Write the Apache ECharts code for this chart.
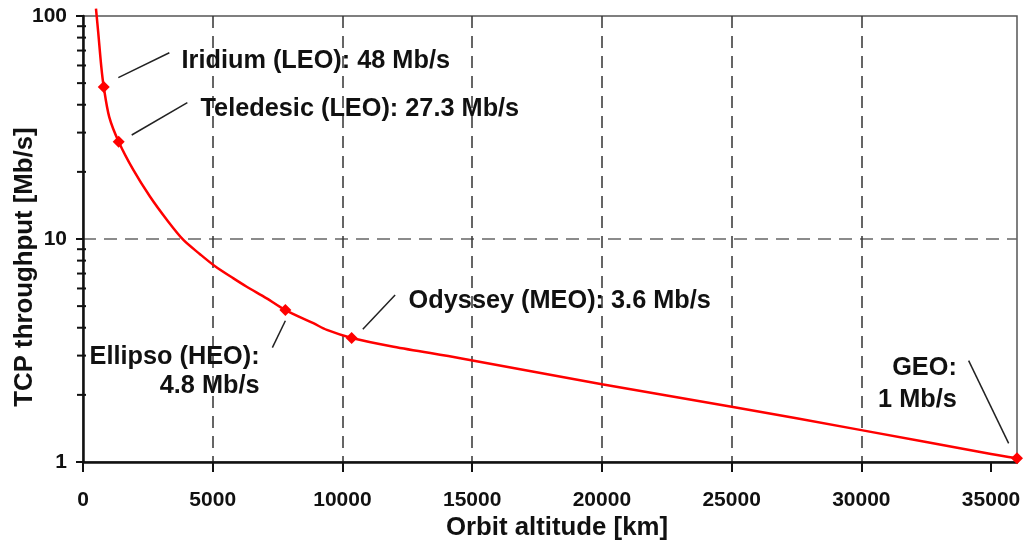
<!DOCTYPE html>
<html>
<head>
<meta charset="utf-8">
<script src="https://cdn.jsdelivr.net/npm/echarts@6/dist/echarts.min.js"></script>
<style>
html,body{margin:0;padding:0;background:#fff;}
#chart{width:1024px;height:544px;}
</style>
</head>
<body>
<div id="chart"></div>
<script>
// Curve data (orbit altitude km, TCP throughput Mb/s)
const curveAltitude   = [500, 590, 705, 800, 1010, 1375, 1940, 2580, 3230, 3870, 4510, 5090, 5800, 6310, 7080, 7800, 8880, 9400, 10354, 11970, 14540, 20000, 25000, 30000, 35000, 36000];
const curveThroughput = [108, 83.6, 59.3, 48, 35.3, 27.3, 20.4, 15.5, 12.2, 9.9, 8.55, 7.55, 6.66, 6.11, 5.42, 4.8, 4.19, 3.91, 3.6, 3.29, 2.92, 2.23, 1.77, 1.39, 1.087, 1.04];

// Marked systems
const systemNames      = ['Iridium (LEO)', 'Teledesic (LEO)', 'Ellipso (HEO)', 'Odyssey (MEO)', 'GEO'];
const systemAltitude   = [800, 1375, 7800, 10354, 36000];
const systemThroughput = [48, 27.3, 4.8, 3.6, 1.04];

// Axis ticks
const xTickValues = [0, 5000, 10000, 15000, 20000, 25000, 30000, 35000];
const yMinorTicks = [2,3,4,5,6,7,8,9,20,30,40,50,60,70,80,90];

// Annotation layout (data-space anchors for labels and leader lines)
const annotations = [
  {text: 'Iridium (LEO): 48 Mb/s',     at: [3779, 62.8],  side: 'right', line: [[1361, 52.9], [3328, 68.4]]},
  {text: 'Teledesic (LEO): 27.3 Mb/s', at: [4511, 38.3],  side: 'right', line: [[1878, 29.27], [4022, 40.85]]},
  {text: 'Odyssey (MEO): 3.6 Mb/s',    at: [12531, 5.27], side: 'right', line: [[10785, 3.94], [12030, 5.61]]},
  {text: 'Ellipso (HEO):\n4.8 Mb/s',   at: [6825, 2.546], side: 'left',  lh: 29, line: [[7800, 4.30], [7299, 3.256]]},
  {text: 'GEO:\n1 Mb/s',               at: [33700, 2.24], side: 'left',  lh: 32, line: [[34136, 2.847], [35678, 1.213]]}
];

const FONT = '"Liberation Sans", Arial, sans-serif';
const TXT = '#111';

const chart = echarts.init(document.getElementById('chart'));

const curveData = curveAltitude.map((x, i) => [x, curveThroughput[i]]);
const systemData = systemAltitude.map((x, i) => ({name: systemNames[i], value: [x, systemThroughput[i]]}));

const option = {
  animation: false,
  backgroundColor: '#fff',
  grid: {left: 83, right: 7, top: 16, bottom: 82, outerBoundsMode: 'none', containLabel: false,
         show: true, borderColor: '#555', borderWidth: 1.5, backgroundColor: 'transparent'},
  xAxis: {
    type: 'value', min: 0, max: 36000, interval: 5000,
    name: 'Orbit altitude [km]', nameLocation: 'middle', nameGap: 53, nameMoveOverlap: false,
    nameTextStyle: {fontFamily: FONT, fontWeight: 'bold', fontSize: 25.8, color: TXT, padding: [0, 0, 0, 14]},
    axisLine: {show: true, lineStyle: {color: '#111', width: 2.5}},
    axisTick: {show: true, length: 10, lineStyle: {color: '#111', width: 2}, customValues: xTickValues},
    axisLabel: {fontFamily: FONT, fontWeight: 'bold', fontSize: 21, color: TXT, margin: 28, customValues: xTickValues,
                formatter: v => String(v)},
    splitLine: {show: true, showMinLine: false, showMaxLine: false, lineStyle: {color: '#333', width: 1.5, type: [12, 8]}}
  },
  yAxis: {
    type: 'log', logBase: 10, min: 1, max: 100,
    name: 'TCP throughput [Mb/s]', nameLocation: 'middle', nameGap: 45, nameMoveOverlap: false,
    nameTextStyle: {fontFamily: FONT, fontWeight: 'bold', fontSize: 25.8, color: TXT, padding: [0, 56, 0, 0]},
    axisLine: {show: true, lineStyle: {color: '#111', width: 2.5}},
    axisTick: {show: true, length: 7, lineStyle: {color: '#111', width: 2}},
    axisLabel: {fontFamily: FONT, fontWeight: 'bold', fontSize: 21, color: TXT, margin: 16, formatter: v => String(v)},
    splitLine: {show: true, showMinLine: false, showMaxLine: false, lineStyle: {color: '#666', width: 1.5, type: [13, 8]}}
  },
  series: [
    {
      type: 'custom', silent: true, z: 5,
      data: yMinorTicks.map(v => [0, v]),
      renderItem: function (params, api) {
        const p = api.coord([0, api.value(1)]);
        return {type: 'line', shape: {x1: p[0] - 6, y1: p[1], x2: p[0] + 3, y2: p[1]}, style: {stroke: '#111', lineWidth: 2}};
      }
    },
    {
      type: 'line', data: curveData, smooth: 0.3, showSymbol: false, clip: false, z: 3,
      lineStyle: {color: '#ff0000', width: 2.5}, itemStyle: {color: '#ff0000'},
      markLine: {
        silent: true, symbol: 'none', label: {show: false},
        lineStyle: {color: '#222', width: 1.5, type: 'solid'},
        emphasis: {disabled: true},
        data: annotations.map(a => [{coord: a.line[0]}, {coord: a.line[1]}])
      }
    },
    {
      type: 'scatter', data: systemData, symbol: 'diamond', symbolSize: 12, clip: false, z: 6,
      itemStyle: {color: '#ff0000', opacity: 1}
    },
    {
      type: 'scatter', symbolSize: 1, clip: false, z: 7, silent: true,
      itemStyle: {color: 'rgba(0,0,0,0)', opacity: 1},
      data: annotations.map(a => ({
        value: a.at,
        label: {
          show: true, formatter: a.text, position: a.side, distance: 0,
          align: a.side === 'left' ? 'right' : 'left',
          lineHeight: a.lh || 30, opacity: 1,
          fontFamily: FONT, fontWeight: 'bold', fontSize: 25.3, color: TXT
        }
      }))
    }
  ]
};
chart.setOption(option);
</script>
</body>
</html>
